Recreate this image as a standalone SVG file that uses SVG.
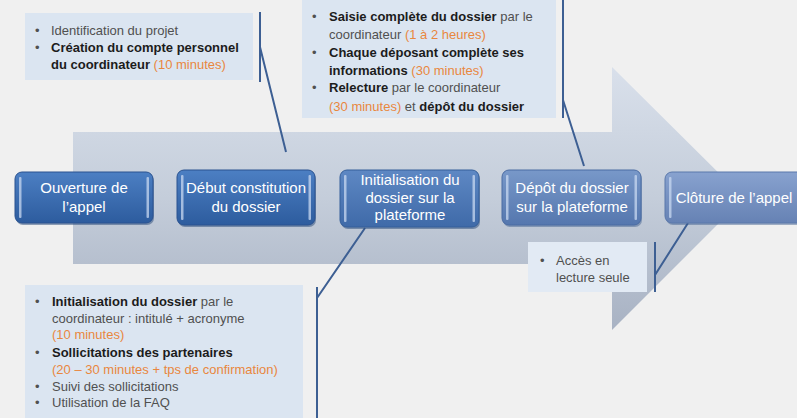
<svg xmlns="http://www.w3.org/2000/svg" width="797" height="418" viewBox="0 0 797 418">
<style>
.note{fill:#dbe5f1}
.t{font-family:"Liberation Sans",Arial,sans-serif;font-size:13px;fill:#505050}
.b{font-weight:bold;fill:#1c1c1c}
.o{fill:#e9873e}
.n{font-family:"Liberation Sans",Arial,sans-serif;font-size:15px;fill:#ffffff;text-anchor:middle}
.c{stroke:#3d5f93;stroke-width:2;fill:none}
.hl{fill:#c8d8f0;opacity:0.75}
</style>
<defs>
<linearGradient id="arr" x1="0" y1="67" x2="0" y2="330" gradientUnits="userSpaceOnUse">
<stop offset="0" stop-color="#d9e0eb"/>
<stop offset="0.5" stop-color="#c4cdda"/>
<stop offset="1" stop-color="#a8b2c3"/>
</linearGradient>
<linearGradient id="n1" x1="0" y1="0" x2="0" y2="1">
<stop offset="0" stop-color="#4c7fc3"/>
<stop offset="1" stop-color="#2d5c9e"/>
</linearGradient>
<linearGradient id="n3" x1="0" y1="0" x2="0" y2="1">
<stop offset="0" stop-color="#5e88c4"/>
<stop offset="1" stop-color="#3f6aa8"/>
</linearGradient>
<linearGradient id="n4" x1="0" y1="0" x2="0" y2="1">
<stop offset="0" stop-color="#7898c9"/>
<stop offset="1" stop-color="#5577ae"/>
</linearGradient>
<linearGradient id="n5" x1="0" y1="0" x2="0" y2="1">
<stop offset="0" stop-color="#88a2cf"/>
<stop offset="1" stop-color="#6682b4"/>
</linearGradient>
</defs>
<rect width="797" height="418" fill="#f0f0f0"/>
<g id="arrow">
<polygon points="73,132 612,132 612,67 744,198 612,330 612,264 73,264" fill="url(#arr)"/>
</g>
<g id="note-a">
<rect class="note" x="25" y="13" width="228" height="67"/>
<text class="t" x="35" y="35">•</text>
<text class="t" x="51" y="35">Identification du projet</text>
<text class="t" x="35" y="52">•</text>
<text class="t" x="51" y="52"><tspan class="b">Création du compte personnel</tspan></text>
<text class="t" x="51" y="69"><tspan class="b">du coordinateur</tspan> <tspan class="o">(10 minutes)</tspan></text>
</g>
<g id="note-b">
<rect class="note" x="302" y="0" width="254" height="118"/>
<text class="t" x="312" y="21">•</text>
<text class="t" x="329" y="21"><tspan class="b">Saisie complète du dossier</tspan> par le</text>
<text class="t" x="329" y="39">coordinateur <tspan class="o">(1 à 2 heures)</tspan></text>
<text class="t" x="312" y="57">•</text>
<text class="t" x="329" y="57"><tspan class="b">Chaque déposant complète ses</tspan></text>
<text class="t" x="329" y="75"><tspan class="b">informations</tspan> <tspan class="o">(30 minutes)</tspan></text>
<text class="t" x="312" y="92">•</text>
<text class="t" x="329" y="92"><tspan class="b">Relecture</tspan> par le coordinateur</text>
<text class="t" x="329" y="111"><tspan class="o">(30 minutes)</tspan> et <tspan class="b">dépôt du dossier</tspan></text>
</g>
<g id="note-c">
<rect class="note" x="25" y="285" width="278" height="140"/>
<text class="t" x="35" y="306">•</text>
<text class="t" x="52" y="306"><tspan class="b">Initialisation du dossier</tspan> par le</text>
<text class="t" x="52" y="323">coordinateur : intitulé + acronyme</text>
<text class="t" x="52" y="339"><tspan class="o">(10 minutes)</tspan></text>
<text class="t" x="35" y="357">•</text>
<text class="t" x="52" y="357"><tspan class="b">Sollicitations des partenaires</tspan></text>
<text class="t" x="52" y="374"><tspan class="o">(20 – 30 minutes + tps de confirmation)</tspan></text>
<text class="t" x="35" y="391">•</text>
<text class="t" x="52" y="391">Suivi des sollicitations</text>
<text class="t" x="35" y="407">•</text>
<text class="t" x="52" y="407">Utilisation de la FAQ</text>
</g>
<g id="note-d">
<rect x="528" y="242" width="119" height="50" fill="#e2eaf4"/>
<text class="t" x="540" y="265">•</text>
<text class="t" x="556" y="265">Accès en</text>
<text class="t" x="556" y="282">lecture seule</text>
</g>
<g id="connectors">
<path class="c" d="M260,12 V82 M260,47 L286,152"/>
<path class="c" d="M563,0 V118 M563,100 L584,166"/>
<path class="c" d="M317,287 V418 M317,298 L365,228"/>
<path class="c" d="M655,242 V292 M655,275 L688,223"/>
</g>
<g id="node-1">
<rect x="16" y="174" width="138" height="51" rx="7" fill="#27497a" opacity="0.5"/>
<rect x="15" y="172" width="138" height="51" rx="7" fill="url(#n1)" stroke="#2a5290"/>
<rect class="hl" x="19" y="177" width="2.5" height="41" rx="1"/>
<rect class="hl" x="146.5" y="177" width="2.5" height="41" rx="1"/>
<text class="n" x="84" y="193">Ouverture de</text>
<text class="n" x="84" y="212">l’appel</text>
</g>
<g id="node-2">
<rect x="178" y="172" width="138" height="55" rx="7" fill="#27497a" opacity="0.5"/>
<rect x="177" y="170" width="138" height="55" rx="7" fill="url(#n1)" stroke="#2a5290"/>
<rect class="hl" x="181" y="175" width="2.5" height="45" rx="1"/>
<rect class="hl" x="308.5" y="175" width="2.5" height="45" rx="1"/>
<text class="n" x="246" y="193">Début constitution</text>
<text class="n" x="246" y="212">du dossier</text>
</g>
<g id="node-3">
<rect x="341" y="172" width="139" height="57" rx="7" fill="#27497a" opacity="0.5"/>
<rect x="340" y="170" width="139" height="57" rx="7" fill="url(#n3)" stroke="#355f9a"/>
<rect class="hl" x="344" y="175" width="2.5" height="47" rx="1"/>
<rect class="hl" x="472.5" y="175" width="2.5" height="47" rx="1"/>
<text class="n" x="410" y="185">Initialisation du</text>
<text class="n" x="410" y="203">dossier sur la</text>
<text class="n" x="410" y="220">plateforme</text>
</g>
<g id="node-4">
<rect x="503" y="172" width="139" height="55" rx="7" fill="#3a5a8c" opacity="0.45"/>
<rect x="502" y="170" width="139" height="55" rx="7" fill="url(#n4)" stroke="#4b6ca3"/>
<rect class="hl" x="506" y="175" width="2.5" height="45" rx="1"/>
<rect class="hl" x="634.5" y="175" width="2.5" height="45" rx="1"/>
<text class="n" x="572" y="193">Dépôt du dossier</text>
<text class="n" x="572" y="212">sur la plateforme</text>
</g>
<g id="node-5">
<rect x="666" y="174" width="140" height="51" rx="7" fill="#3a5a8c" opacity="0.45"/>
<rect x="665" y="172" width="140" height="51" rx="7" fill="url(#n5)" stroke="#5a78ab"/>
<rect class="hl" x="669" y="177" width="2.5" height="41" rx="1"/>
<text class="n" x="734" y="203">Clôture de l’appel</text>
</g>
</svg>
